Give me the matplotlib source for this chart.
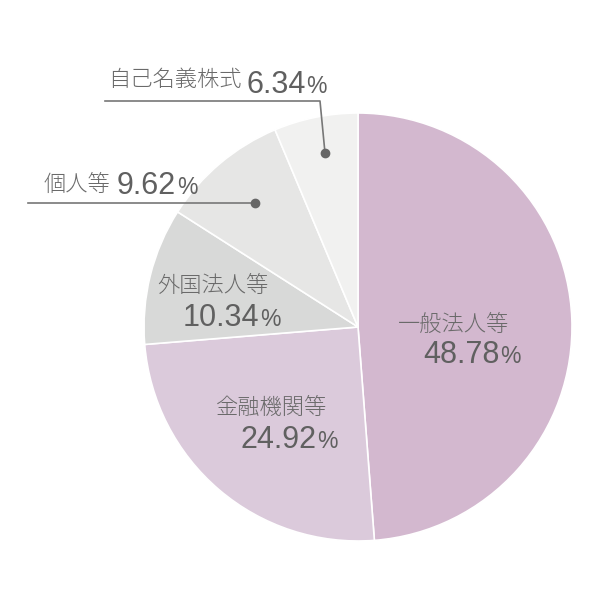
import matplotlib
matplotlib.use("Agg")
import matplotlib.pyplot as plt

# 株主構成
labels = ["一般法人等", "金融機関等", "外国法人等", "個人等", "自己名義株式"]
values = [48.78, 24.92, 10.34, 9.62, 6.34]
colors = ["#d3b8cf", "#dbcadb", "#d8d9d8", "#e6e6e5", "#f1f1f0"]

W, H = 600, 607
CX, CY, R = 358, 327, 214  # pie centre / radius in pixels
CJK = ["Noto Sans CJK JP", "DejaVu Sans"]
NUM = ["Liberation Sans", "DejaVu Sans"]

fig = plt.figure(figsize=(W / 100, H / 100), dpi=100)
ax = fig.add_axes([0, 0, 1, 1])

ax.pie(values, colors=colors, startangle=90, counterclock=False, radius=1,
       wedgeprops=dict(edgecolor="white", linewidth=1.2))
ax.set_aspect("auto")
ax.set_xlim(-CX / R, (W - CX) / R)
ax.set_ylim((CY - H) / R, CY / R)
ax.axis("off")


def px(x, y):
    return (x - CX) / R, (CY - y) / R


renderer = fig.canvas.get_renderer()


def num_pct(val, nx, nbase):
    t = ax.text(*px(nx, nbase), f"{val:.2f}", family=NUM, fontsize=22, color="#606060",
                va="baseline", ha="left")
    bb = t.get_window_extent(renderer)
    x1 = ax.transData.inverted().transform((bb.x1 + 1, 0))[0]
    ax.text(x1, px(nx, nbase)[1], "%", family=NUM, fontsize=16.5, color="#606060",
            va="baseline", ha="left")


def label(name, val, lx, ly, nx, nbase):
    ax.text(*px(lx, ly), name, family=CJK, fontsize=16, color="#6a6a6a", va="center",
            ha="left", weight="light")
    num_pct(val, nx, nbase)


# inside labels
label(labels[0], values[0], 398, 325, 423, 363)
label(labels[1], values[1], 216, 408, 240, 448)
label(labels[2], values[2], 157, 286, 183, 326)

# outside labels (name and number on one line)
label(labels[3], values[3], 44, 185, 117, 194)
label(labels[4], values[4], 108, 80, 246, 93)

# leader lines
lc = "#777777"
xs, ys = zip(px(28, 203), px(255, 203))
ax.plot(xs, ys, color=lc, lw=1.2)
ax.plot(*px(255, 203), "o", color="#666666", ms=6)
xs, ys = zip(px(105, 101), px(320, 101), px(325, 153))
ax.plot(xs, ys, color=lc, lw=1.2)
ax.plot(*px(325, 153), "o", color="#666666", ms=6)

fig.savefig("out.png", dpi=100, facecolor="white")
